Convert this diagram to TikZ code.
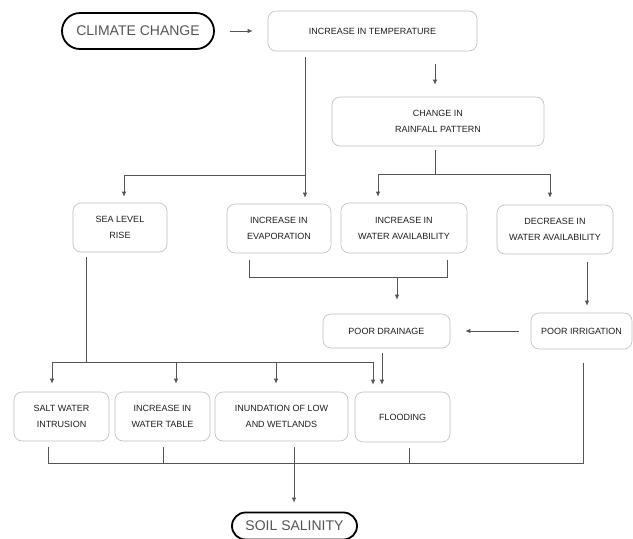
\documentclass[tikz,border=0pt]{standalone}
\usepackage{fontspec}
\setmainfont{Liberation Sans}
\usetikzlibrary{arrows.meta,calc,shapes.misc}
\definecolor{linec}{HTML}{555555}
\definecolor{boxc}{HTML}{BDBDBD}
\definecolor{txtc}{HTML}{1E1E1E}
\definecolor{bigtxt}{HTML}{555555}
\tikzset{
  box/.style={draw=boxc, line width=0.6pt, rounded corners=8pt, align=center, text=txtc,
    font=\fontsize{9}{16}\selectfont, inner sep=0pt},
  term/.style={rounded rectangle, draw=black, line width=1.8pt, text=bigtxt,
    font=\fontsize{14}{16}\selectfont, inner sep=0pt},
  con/.style={draw=linec, line width=0.8pt},
  arr/.style={con, -{Latex[length=5pt,width=4.5pt]}}
}
\begin{document}
\begin{tikzpicture}[x=1pt,y=-1pt]
\useasboundingbox (0,0) rectangle (633,539);
% nodes
\node[term, minimum width=152pt, minimum height=36pt] (climate) at (138,31) {CLIMATE CHANGE};
\node[box, minimum width=209pt, minimum height=40pt] (temp) at (372.5,31) {INCREASE IN TEMPERATURE};
\node[box, minimum width=212pt, minimum height=49pt] (rain) at (438,121.5) {CHANGE IN\\RAINFALL PATTERN};
\node[box, minimum width=94pt, minimum height=49pt] (sea) at (120,227.5) {SEA LEVEL\\RISE};
\node[box, minimum width=104pt, minimum height=49pt] (evap) at (279,228.5) {INCREASE IN\\EVAPORATION};
\node[box, minimum width=126pt, minimum height=50pt] (wa) at (404,228) {INCREASE IN\\WATER AVAILABILITY};
\node[box, minimum width=116pt, minimum height=49pt] (dec) at (555,229.5) {DECREASE IN\\WATER AVAILABILITY};
\node[box, minimum width=127pt, minimum height=34pt] (drain) at (386.5,331) {POOR DRAINAGE};
\node[box, minimum width=101pt, minimum height=36pt] (irr) at (581.5,331) {POOR IRRIGATION};
\node[box, minimum width=95pt, minimum height=49pt] (salt) at (61.5,416.5) {SALT WATER\\INTRUSION};
\node[box, minimum width=95pt, minimum height=49pt] (wt) at (162.5,416.5) {INCREASE IN\\WATER TABLE};
\node[box, minimum width=133pt, minimum height=49pt] (inund) at (281.5,416.5) {INUNDATION OF LOW\\AND WETLANDS};
\node[box, minimum width=95pt, minimum height=50pt] (flood) at (402.5,417) {FLOODING};
\node[term, minimum width=125pt, minimum height=27pt] (soil) at (294.5,526) {SOIL SALINITY};
% helper coordinates
\coordinate (cA) at (305,175);
\coordinate (cSea) at (124,175);
\coordinate (cB) at (435,174);
\coordinate (cWA) at (378,174);
\coordinate (cDec) at (550,174);
\coordinate (cE) at (249,277);
\coordinate (cW) at (447,277);
\coordinate (cD) at (397,277);
\coordinate (cDecx) at (587,0);
\coordinate (cS) at (86,362);
\coordinate (h1) at (52,362);
\coordinate (h2) at (176,362);
\coordinate (h3) at (276,362);
\coordinate (h4) at (373,362);
\coordinate (cFl) at (382,0);
\coordinate (b1) at (48,463);
\coordinate (b2) at (163,463);
\coordinate (b3) at (294,463);
\coordinate (b4) at (409,463);
\coordinate (b5) at (583,463);
% connectors
\draw[arr, shorten <=15pt, shorten >=15pt] (climate.east) -- (temp.west);
\draw[arr, shorten <=13pt, shorten >=12pt] (temp.south -| cB) -- (rain.north -| cB);
\draw[con, shorten <=6pt] (temp.south -| cA) -- (cA);
\draw[arr, shorten >=6pt] (cA) -- (evap.north -| cA);
\draw[arr, shorten >=6pt] (cA) -| (sea.north -| cSea);
\draw[con, shorten <=4pt] (rain.south -| cB) -- (cB);
\draw[arr, shorten >=6pt] (cB) -| (wa.north -| cWA);
\draw[arr, shorten >=7pt] (cB) -| (dec.north -| cDec);
\draw[con, shorten <=7pt, shorten >=7pt] (evap.south -| cE) -- (cE) -- (cW) -- (wa.south -| cW);
\draw[arr, shorten >=14pt] (cD) -- (drain.north -| cD);
\draw[arr, shorten <=8pt, shorten >=7pt] (dec.south -| cDecx) -- (irr.north -| cDecx);
\draw[arr, shorten <=12pt, shorten >=15pt] (irr.west) -- (drain.east);
\draw[con, shorten <=5pt] (sea.south -| cS) -- (cS);
\draw[con] (h1) -- (h4);
\draw[arr, shorten >=8pt] (h1) -- (salt.north -| h1);
\draw[arr, shorten >=8pt] (h2) -- (wt.north -| h2);
\draw[arr, shorten >=8pt] (h3) -- (inund.north -| h3);
\draw[arr, shorten >=7pt] (h4) -- (flood.north -| h4);
\draw[arr, shorten <=5pt, shorten >=7pt] (drain.south -| cFl) -- (flood.north -| cFl);
\draw[con, shorten <=6pt, shorten >=14pt] (salt.south -| b1) -- (b1) -- (b5) -- (irr.south -| b5);
\draw[con, shorten <=6pt] (wt.south -| b2) -- (b2);
\draw[con, shorten <=6pt] (flood.south -| b4) -- (b4);
\draw[arr, shorten <=6pt, shorten >=9pt] (inund.south -| b3) -- (soil.north -| b3);
\end{tikzpicture}
\end{document}
